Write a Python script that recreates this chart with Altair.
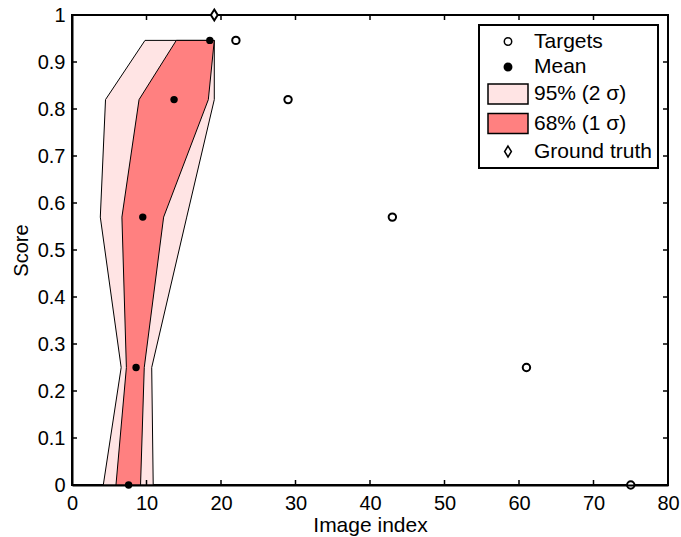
import altair as alt
import pandas as pd

# ---- data ----
levels = [0.0, 0.25, 0.57, 0.82, 0.946]          # score levels of the targets
target_idx = [75, 61, 43, 29, 22]                 # image index of each target
mean_idx = [7.6, 8.6, 9.5, 13.7, 18.5]            # mean image index
lo95 = [4.2, 6.6, 3.8, 4.5, 9.8]
hi95 = [10.9, 10.7, 15.4, 19.1, 19.1]
lo68 = [5.9, 7.3, 6.7, 9.0, 14.0]
hi68 = [9.2, 9.7, 12.3, 18.3, 19.1]
gt_idx = [19.1]
gt_score = [1.0]
series_names = ["Targets", "Mean", "95% (2 σ)", "68% (1 σ)", "Ground truth"]
x_ticks = [0, 10, 20, 30, 40, 50, 60, 70, 80]
y_ticks = [0, 0.1, 0.2, 0.3, 0.4, 0.5, 0.6, 0.7, 0.8, 0.9, 1.0]

FONT = "Liberation Sans"
W, H = 596, 470

band95 = pd.DataFrame({"score": levels, "lo": lo95, "hi": hi95, "series": series_names[2]})
band68 = pd.DataFrame({"score": levels, "lo": lo68, "hi": hi68, "series": series_names[3]})
targets = pd.DataFrame({"idx": target_idx, "score": levels, "series": series_names[0]})
means = pd.DataFrame({"idx": mean_idx, "score": levels, "series": series_names[1]})
gt = pd.DataFrame({"idx": gt_idx, "score": gt_score, "series": series_names[4]})
xt = pd.DataFrame({"t": x_ticks})
yt = pd.DataFrame({"t": y_ticks})

rect_path = "M-2,-1H2V1H-2Z"
diamond_path = "M0,-1L0.62,0L0,1L-0.62,0Z"

fill_scale = alt.Scale(domain=series_names,
                       range=["white", "black", "#ffe4e4", "#ff8080", "white"])
shape_scale = alt.Scale(domain=series_names,
                        range=["circle", "circle", rect_path, rect_path, diamond_path])
size_scale = alt.Scale(type="ordinal", domain=series_names,
                       range=[55, 55, 400, 400, 120])

xscale = alt.Scale(domain=[0, 80], nice=False, zero=False)
yscale = alt.Scale(domain=[0, 1], nice=False, zero=False)

x_axis = alt.Axis(values=x_ticks, title="Image index", ticks=False, grid=False,
                  domain=True, domainColor="black", domainWidth=2, labelFlush=False,
                  labelFont=FONT, labelFontSize=20, labelColor="black", labelPadding=8,
                  titleFont=FONT, titleFontSize=21, titleFontWeight="normal", titleColor="black",
                  titleBaseline="alphabetic", titleX=W / 2, titleY=46, zindex=1)
y_axis = alt.Axis(values=y_ticks, title="Score", format="~g", ticks=False, grid=False,
                  domain=True, domainColor="black", domainWidth=2, labelFlush=False,
                  labelFont=FONT, labelFontSize=20, labelColor="black", labelPadding=7,
                  titleFont=FONT, titleFontSize=20, titleFontWeight="normal", titleColor="black",
                  titleAngle=270, titleBaseline="alphabetic", titleAlign="center",
                  titleX=-45, titleY=H / 2, zindex=1)

leg = alt.Legend(title=None)

a95 = alt.Chart(band95).mark_area(orient="horizontal", stroke="black", strokeWidth=1,
                                   opacity=1).encode(
    y=alt.Y("score:Q", scale=yscale, axis=y_axis),
    x=alt.X("lo:Q", scale=xscale, axis=x_axis),
    x2="hi:Q",
    fill=alt.Fill("series:N", scale=fill_scale, legend=leg),
)
a68 = alt.Chart(band68).mark_area(orient="horizontal", stroke="black", strokeWidth=1,
                                   opacity=1).encode(
    y=alt.Y("score:Q", scale=yscale),
    x=alt.X("lo:Q", scale=xscale),
    x2="hi:Q",
    fill=alt.Fill("series:N", scale=fill_scale, legend=leg),
)


def pts(df, sw):
    return alt.Chart(df).mark_point(filled=True, stroke="black", strokeWidth=sw,
                                    opacity=1).encode(
        x=alt.X("idx:Q", scale=xscale),
        y=alt.Y("score:Q", scale=yscale),
        fill=alt.Fill("series:N", scale=fill_scale, legend=leg),
        shape=alt.Shape("series:N", scale=shape_scale, legend=leg),
        size=alt.Size("series:N", scale=size_scale, legend=leg),
    )


p_mean = pts(means, 0)
p_tgt = pts(targets, 2)
p_gt = pts(gt, 2)

tick_len = 5
tick_style = dict(color="black", strokeWidth=1.5)
tb = alt.Chart(xt).mark_rule(**tick_style).encode(
    x=alt.X("t:Q", scale=xscale), y=alt.value(H), y2=alt.value(H - tick_len))
tt = alt.Chart(xt).mark_rule(**tick_style).encode(
    x=alt.X("t:Q", scale=xscale), y=alt.value(0), y2=alt.value(tick_len))
tl = alt.Chart(yt).mark_rule(**tick_style).encode(
    y=alt.Y("t:Q", scale=yscale), x=alt.value(0), x2=alt.value(tick_len))
tr = alt.Chart(yt).mark_rule(**tick_style).encode(
    y=alt.Y("t:Q", scale=yscale), x=alt.value(W), x2=alt.value(W - tick_len))

chart = alt.layer(a95, a68, tb, tt, tl, tr, p_mean, p_tgt, p_gt).properties(
    width=W, height=H,
    autosize=alt.AutoSizeParams(type="none"),
    padding={"left": 72, "top": 15, "right": 13, "bottom": 52},
    background="white",
).configure_view(
    stroke="black", strokeWidth=2
).configure_legend(
    orient="none", legendX=407, legendY=10,
    padding=6, strokeColor="black", strokeWidth=2, fillColor="white", cornerRadius=0,
    rowPadding=3.5, labelFont=FONT, labelFontSize=21, labelColor="black", labelOffset=15,
    symbolOffset=12,
    symbolStrokeColor="black", symbolStrokeWidth=1.5, symbolFillColor="white",
    symbolOpacity=1,
)

chart.save("out.html", embed_options={"renderer": "svg", "actions": False})
